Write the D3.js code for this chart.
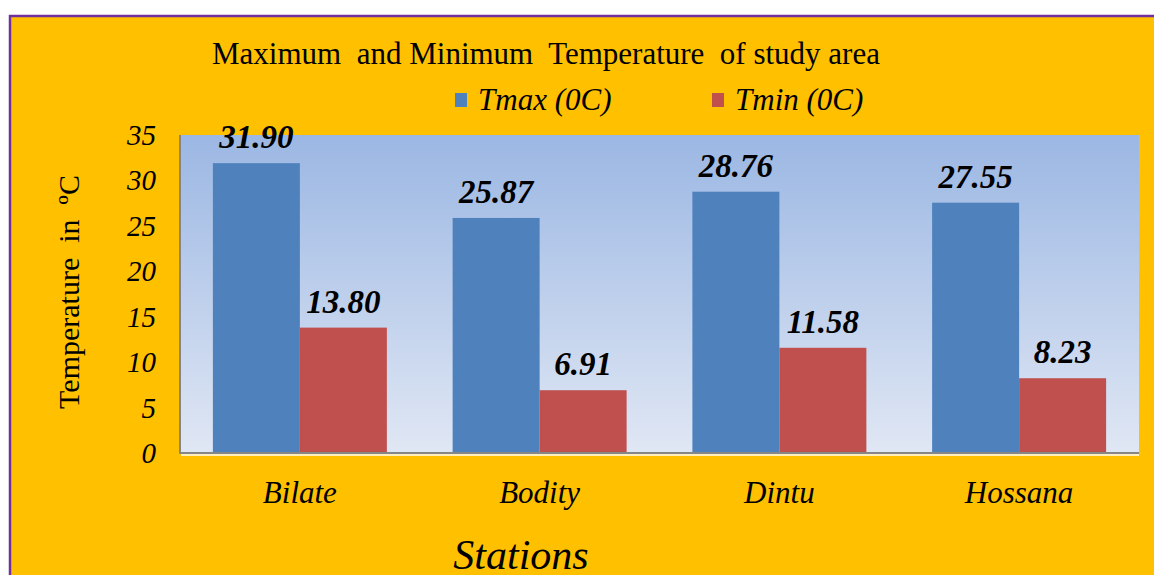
<!DOCTYPE html>
<html>
<head>
<meta charset="utf-8">
<script src="https://cdn.jsdelivr.net/npm/d3@7"></script>
<style>
  body { margin: 0; background: #fff; }
  text { font-family: "Liberation Serif", "Times New Roman", serif; }
</style>
</head>
<body>
<div id="chart"></div>
<script>
// data
const stations = ["Bilate", "Bodity", "Dintu", "Hossana"];
const seriesNames = ["Tmax (0C)", "Tmin (0C)"];
const tmax = [31.90, 25.87, 28.76, 27.55];
const tmin = [13.80, 6.91, 11.58, 8.23];
const yTicks = [0, 5, 10, 15, 20, 25, 30, 35];

const width = 1154, height = 575;
const plot = {left: 180, right: 1139, top: 135, bottom: 453};
const colors = ["#4f81bd", "#c0504d"];

const data = stations.map((s, i) => ({station: s, values: [tmax[i], tmin[i]]}));

const svg = d3.select("#chart").append("svg")
    .attr("width", width)
    .attr("height", height);

// gradient for plot area
const grad = svg.append("defs").append("linearGradient")
    .attr("id", "bg").attr("x1", 0).attr("y1", 0).attr("x2", 0).attr("y2", 1);
grad.append("stop").attr("offset", "0%").attr("stop-color", "#9bb7e3");
grad.append("stop").attr("offset", "100%").attr("stop-color", "#e0e7f4");

// frame
svg.append("rect")
    .attr("x", 10).attr("y", 16)
    .attr("width", width + 20).attr("height", height)
    .attr("fill", "#ffc000")
    .attr("stroke", "#7030a0")
    .attr("stroke-width", 2.5);

// scales
const x0 = d3.scaleBand()
    .domain(stations)
    .range([plot.left, plot.right])
    .paddingInner(0)
    .paddingOuter(0);

const x1 = d3.scaleBand()
    .domain([0, 1])
    .range([0, x0.bandwidth()])
    .paddingOuter(0.378)
    .paddingInner(0);

const y = d3.scaleLinear()
    .domain([0, 35])
    .range([plot.bottom, plot.top]);

// plot area
svg.append("rect")
    .attr("x", plot.left).attr("y", plot.top)
    .attr("width", plot.right - plot.left)
    .attr("height", plot.bottom - plot.top)
    .attr("fill", "url(#bg)");

// bars
const groups = svg.selectAll("g.grp")
    .data(data)
    .join("g")
    .attr("class", "grp")
    .attr("transform", d => `translate(${x0(d.station)},0)`);

groups.selectAll("rect")
    .data(d => d.values.map((v, k) => ({v, k})))
    .join("rect")
    .attr("x", d => x1(d.k))
    .attr("width", x1.bandwidth())
    .attr("y", d => y(d.v))
    .attr("height", d => y(0) - y(d.v))
    .attr("fill", d => colors[d.k]);

// value labels
groups.selectAll("text")
    .data(d => d.values.map((v, k) => ({v, k})))
    .join("text")
    .attr("x", d => x1(d.k) + x1.bandwidth() / 2)
    .attr("y", d => y(d.v) - 15)
    .attr("text-anchor", "middle")
    .attr("font-size", 33)
    .attr("font-weight", "bold")
    .attr("font-style", "italic")
    .text(d => d3.format(".2f")(d.v));

// axes lines
svg.append("line")
    .attr("x1", plot.left).attr("x2", plot.left)
    .attr("y1", plot.top).attr("y2", plot.bottom + 1)
    .attr("stroke", "#868686").attr("stroke-width", 2);
svg.append("line")
    .attr("x1", plot.left).attr("x2", plot.right)
    .attr("y1", plot.bottom).attr("y2", plot.bottom)
    .attr("stroke", "#868686").attr("stroke-width", 2);
svg.append("line")
    .attr("x1", plot.left + 1).attr("x2", plot.right)
    .attr("y1", plot.bottom + 2).attr("y2", plot.bottom + 2)
    .attr("stroke", "#ffffff").attr("stroke-width", 1.5);

// y tick labels
svg.selectAll("text.ytick")
    .data(yTicks)
    .join("text")
    .attr("class", "ytick")
    .attr("x", 156)
    .attr("y", d => y(d) + 10)
    .attr("text-anchor", "end")
    .attr("font-size", 29)
    .attr("font-style", "italic")
    .text(d => d);

// x labels
svg.selectAll("text.xlab")
    .data(stations)
    .join("text")
    .attr("class", "xlab")
    .attr("x", d => x0(d) + x0.bandwidth() / 2)
    .attr("y", 503)
    .attr("text-anchor", "middle")
    .attr("font-size", 31)
    .attr("font-style", "italic")
    .text(d => d);

// title
svg.append("text")
    .attr("x", 546).attr("y", 64)
    .attr("text-anchor", "middle")
    .attr("font-size", 31)
    .attr("xml:space", "preserve")
    .text("Maximum  and Minimum  Temperature  of study area");

// legend
const legend = svg.selectAll("g.leg")
    .data(seriesNames)
    .join("g")
    .attr("class", "leg")
    .attr("transform", (d, i) => `translate(${[455, 712][i]},93)`);
legend.append("rect")
    .attr("width", 12).attr("height", 14)
    .attr("fill", (d, i) => colors[i]);
legend.append("text")
    .attr("x", 23).attr("y", 17)
    .attr("font-size", 31)
    .attr("font-style", "italic")
    .text(d => d);

// y axis title
svg.append("text")
    .attr("transform", "translate(79,292) rotate(-90)")
    .attr("text-anchor", "middle")
    .attr("font-size", 30)
    .attr("xml:space", "preserve")
    .text("Temperature  in  \u00BAC");

// x axis title
svg.append("text")
    .attr("x", 521).attr("y", 569)
    .attr("text-anchor", "middle")
    .attr("font-size", 42)
    .attr("font-style", "italic")
    .text("Stations");
</script>
</body>
</html>
